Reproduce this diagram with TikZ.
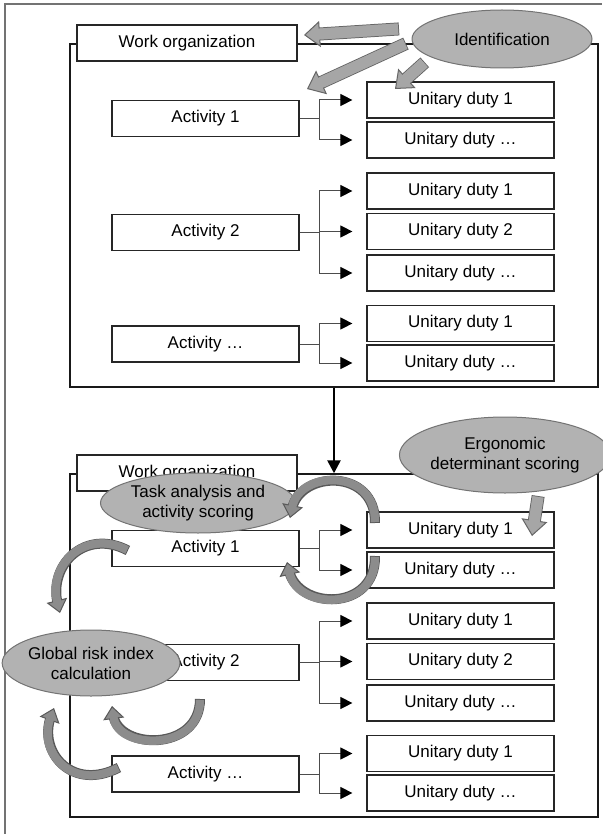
\documentclass[tikz,border=0pt]{standalone}
\usepackage{fontspec}
\setmainfont{Liberation Sans}
\usetikzlibrary{arrows.meta, shapes.geometric}

\tikzset{
  box/.style={draw=black!85, line width=1.2pt, fill=white, inner sep=0pt, minimum height=36pt},
  frame/.style={draw=black!90, line width=1.4pt, inner sep=0pt, minimum width=528pt, minimum height=343pt},
  wobox/.style={box, minimum width=220pt},
  actbox/.style={box, minimum width=187pt},
  dutybox/.style={box, minimum width=187pt},
  branch/.style={draw=black!70, line width=1pt},
  tip/.style={branch, -{Triangle[width=12pt,length=12pt,color=black]}, shorten >=14pt},
  bubble/.style={ellipse, draw=black!55, line width=1pt, fill=black!30, inner sep=0pt, align=center},
  blockarrow/.style={line width=11pt, draw=black!35,
    -{Triangle[width=26pt,length=16pt,fill=black!35,color=black!60,line width=1pt]},
    preaction={draw=black!60, line width=13pt, -, shorten >=11pt, shorten <=-1pt},
    postaction={draw=black!35, line width=11pt, -, shorten >=13pt}},
  curvedarrow/.style={line width=8pt, draw=black!45,
    -{Triangle[width=21pt,length=13pt,fill=black!45,color=black!65,line width=1pt]},
    preaction={draw=black!65, line width=10pt, -, shorten >=9pt, shorten <=-1pt},
    postaction={draw=black!45, line width=8pt, -, shorten >=11pt}}
}

\begin{document}
\begin{tikzpicture}[x=1pt, y=-1pt, font=\fontsize{17}{20}\selectfont]
\useasboundingbox (0,0) rectangle (602,834);
\draw[black!55, line width=1.5pt] (5,834) -- (5,4) -- (602,4);
% the two copies of the work organization tree
\foreach \g/\dy in {1/0,2/430} {
  \begin{scope}[yshift=-\dy pt]
    \node[frame] (grp\g) at (334,215.5) {};
    \node[wobox] (wo\g) at (187,43) {Work organization};
    \node[actbox] (act\g1) at (205.5,118.5) {Activity 1};
    \node[actbox] (act\g2) at (205.5,232.5) {Activity 2};
    \node[actbox] (act\g3) at (205.5,344) {Activity …};
    \node[dutybox] (d\g11) at (460.5,100) {Unitary duty 1};
    \node[dutybox] (d\g12) at (460.5,140) {Unitary duty …};
    \node[dutybox] (d\g21) at (460.5,191) {Unitary duty 1};
    \node[dutybox] (d\g22) at (460.5,231.5) {Unitary duty 2};
    \node[dutybox] (d\g23) at (460.5,273) {Unitary duty …};
    \node[dutybox] (d\g31) at (460.5,323.5) {Unitary duty 1};
    \node[dutybox] (d\g32) at (460.5,363) {Unitary duty …};
    \draw[branch] (act\g1.east) -- ++(20,0) coordinate (s\g1);
    \draw[branch] (act\g2.east) -- ++(20,0) coordinate (s\g2);
    \draw[branch] (act\g3.east) -- ++(20,0) coordinate (s\g3);
    \foreach \d in {1,2} \draw[tip] (s\g1) |- (d\g1\d.west);
    \foreach \d in {1,2,3} \draw[tip] (s\g2) |- (d\g2\d.west);
    \foreach \d in {1,2} \draw[tip] (s\g3) |- (d\g3\d.west);
  \end{scope}
}
\draw[line width=2.5pt, -{Triangle[width=13pt,length=13pt]}] (grp1.south) -- (grp2.north);

% identification
\node[bubble, minimum width=180pt, minimum height=58pt] (ident) at (502,39) {Identification};
\coordinate (i1) at (398,29);  \coordinate (h1) at (304,35);
\coordinate (i2) at (405,44);  \coordinate (h2) at (307,89);
\coordinate (i3) at (424,63);  \coordinate (h3) at (395,89);
\draw[blockarrow] (i1) -- (h1);
\draw[blockarrow] (i2) -- (h2);
\draw[blockarrow] (i3) -- (h3);

% scoring
\node[bubble, minimum width=194pt, minimum height=76pt] (ergo) at (505,455) {Ergonomic\\determinant scoring};
\node[bubble, minimum width=195pt, minimum height=60pt] (task) at (198,503) {Task analysis and\\activity scoring};
\node[bubble, minimum width=164pt, minimum height=66pt] (risk) at (91,663) {Global risk index\\calculation};
\coordinate (e1) at (538,497); \coordinate (f1) at (532,536);
\draw[blockarrow] (e1) -- (f1);
\coordinate (ca) at (375,522); \coordinate (ta) at (290,518);
\coordinate (cb) at (375,557); \coordinate (tb) at (287,562);
\draw[curvedarrow] (ca) .. controls (376,468) and (300,470) .. (ta);
\draw[curvedarrow] (cb) .. controls (376,612) and (298,610) .. (tb);
\coordinate (cc) at (127,550); \coordinate (tc) at (60,613);
\coordinate (cd) at (200,700); \coordinate (td) at (112,706);
\coordinate (ce) at (118,768); \coordinate (te) at (54,708);
\draw[curvedarrow] (cc) .. controls (85,528) and (48,565) .. (tc);
\draw[curvedarrow] (cd) .. controls (200,752) and (118,750) .. (td);
\draw[curvedarrow] (ce) .. controls (72,792) and (38,752) .. (te);
\end{tikzpicture}
\end{document}
